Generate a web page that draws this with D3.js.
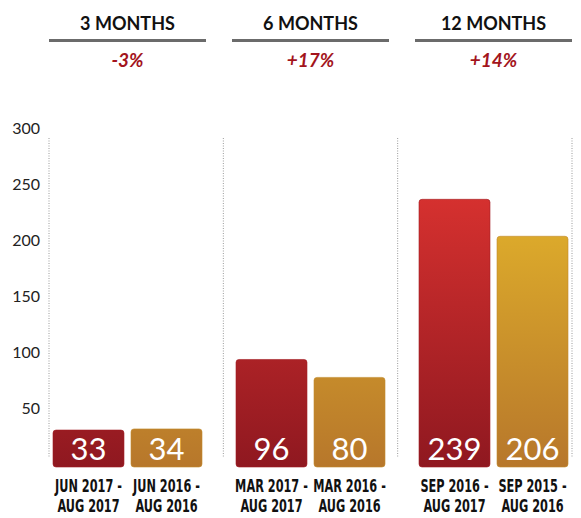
<!DOCTYPE html>
<html>
<head>
<meta charset="utf-8">
<script src="https://cdn.jsdelivr.net/npm/d3@7/dist/d3.min.js"></script>
<style>
  body { margin: 0; background: #fff; }
  svg { display: block; }
</style>
</head>
<body>
<script>
const periods = ['3 MONTHS', '6 MONTHS', '12 MONTHS']
const changes = ['-3%', '+17%', '+14%']
const series = ['recent', 'prior']
const recentValues = [33, 96, 239]
const priorValues = [34, 80, 206]
const recentLabels = [['JUN 2017 -', 'AUG 2017'], ['MAR 2017 -', 'AUG 2017'], ['SEP 2016 -', 'AUG 2017']]
const priorLabels = [['JUN 2016 -', 'AUG 2016'], ['MAR 2016 -', 'AUG 2016'], ['SEP 2015 -', 'AUG 2016']]
const yTicks = [50, 100, 150, 200, 250, 300]

const width = 581
const height = 518

const svg = d3.select('body')
  .append('svg')
  .attr('width', width)
  .attr('height', height)

// gradients, keyed to the page so short bars come out darker
const defs = svg.append('defs')
const grad = (id, top, bottom) => {
  const g = defs.append('linearGradient')
    .attr('id', id)
    .attr('gradientUnits', 'userSpaceOnUse')
    .attr('x1', 0).attr('x2', 0)
    .attr('y1', 195).attr('y2', 467)
  g.append('stop').attr('offset', 0).attr('stop-color', top)
  g.append('stop').attr('offset', 1).attr('stop-color', bottom)
}
grad('g-recent', '#d6312f', '#8f1820')
grad('g-prior', '#e2b22b', '#b7772b')

const y = d3.scaleLinear().domain([0, 300]).range([467, 131])

const x0 = d3.scaleBand().domain(periods).range([36, 585]).padding(0)
const x1 = d3.scaleBand().domain(series).range([17, 166]).paddingInner(0.09)
const xDiv = d3.scaleLinear().domain([0, periods.length]).range([49, 572])

// dotted dividers
svg.append('g')
  .selectAll('line')
  .data(d3.range(periods.length + 1))
  .enter().append('line')
  .attr('x1', d => xDiv(d))
  .attr('x2', d => xDiv(d))
  .attr('y1', 138)
  .attr('y2', 458)
  .attr('stroke', '#9a9a9a')
  .attr('stroke-width', 1)
  .attr('stroke-dasharray', '1,1.5')

// y axis
const yAxis = svg.append('g')
  .attr('transform', 'translate(40,0)')
  .call(d3.axisLeft(y).tickValues(yTicks).tickSize(0).tickPadding(0))
yAxis.select('.domain').remove()
yAxis.selectAll('text')
  .attr('dy', '0.32em')
  .attr('transform', 'translate(0,-3)')
  .attr('fill', '#222')
  .style('font-family', 'Lato, "Open Sans", sans-serif')
  .style('font-size', '16px')

// headers
const head = svg.append('g')
  .selectAll('g')
  .data(periods)
  .enter().append('g')
  .attr('transform', d => `translate(${x0(d) + 91.5},0)`)

head.append('text')
  .attr('y', 30)
  .attr('text-anchor', 'middle')
  .attr('fill', '#111')
  .style('font-family', 'Lato, "Open Sans", sans-serif')
  .style('font-weight', 700)
  .style('font-size', '18px')
  .text(d => d)

head.append('rect')
  .attr('x', -78.5)
  .attr('y', 39)
  .attr('width', 157)
  .attr('height', 3)
  .attr('fill', '#6b6b6b')

head.append('text')
  .attr('y', 67)
  .attr('text-anchor', 'middle')
  .attr('fill', '#a3141c')
  .style('font-family', 'Lato, "Open Sans", sans-serif')
  .style('font-weight', 700)
  .style('font-style', 'italic')
  .style('font-size', '19px')
  .text((d, i) => changes[i])

// bars
const rows = periods.flatMap((p, i) => [
  { period: p, key: 'recent', value: recentValues[i], label: recentLabels[i] },
  { period: p, key: 'prior', value: priorValues[i], label: priorLabels[i] }
])

const bar = svg.append('g')
  .selectAll('g')
  .data(rows)
  .enter().append('g')
  .attr('transform', d => `translate(${x0(d.period) + x1(d.key)},0)`)

bar.append('rect')
  .attr('x', 0)
  .attr('y', d => y(d.value))
  .attr('width', x1.bandwidth())
  .attr('height', d => y(0) - y(d.value))
  .attr('rx', 3)
  .attr('fill', d => `url(#g-${d.key})`)
  .attr('stroke', d => d.key == 'recent' ? '#a11a22' : '#c18a2c')
  .attr('stroke-opacity', 0.6)
  .attr('stroke-width', 1)

bar.append('text')
  .attr('x', x1.bandwidth() / 2)
  .attr('y', 460)
  .attr('text-anchor', 'middle')
  .attr('fill', '#fff')
  .style('font-family', 'Lato, "Open Sans", sans-serif')
  .style('font-weight', 400)
  .style('font-size', '31px')
  .text(d => d.value)

const cat = bar.append('text')
  .attr('text-anchor', 'middle')
  .attr('fill', '#111')
  .attr('transform', `translate(${x1.bandwidth() / 2},0) scale(0.74,1)`)
  .style('font-family', '"Liberation Sans Narrow", "DejaVu Sans Condensed", sans-serif')
  .style('font-weight', 700)
  .style('font-size', '17px')

cat.selectAll('tspan')
  .data(d => d.label)
  .enter().append('tspan')
  .attr('x', 0)
  .attr('y', (d, i) => 492 + i * 20.5)
  .text(d => d)
</script>
</body>
</html>
